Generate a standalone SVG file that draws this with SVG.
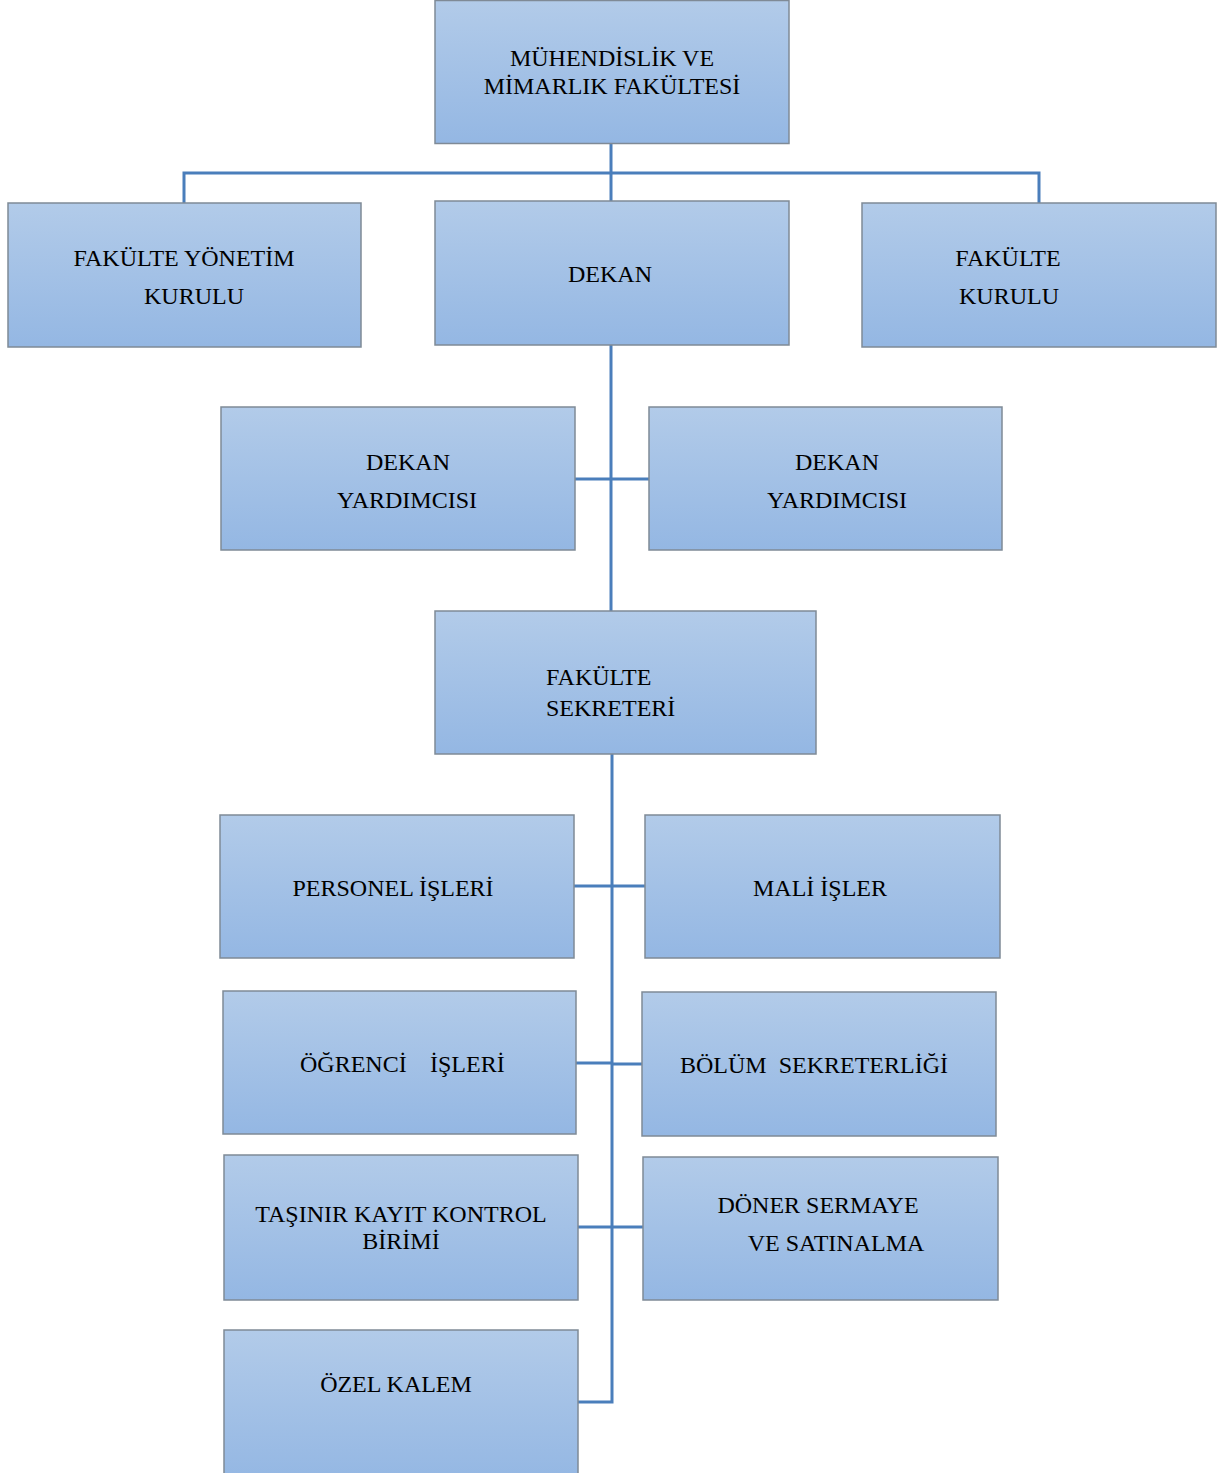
<svg xmlns="http://www.w3.org/2000/svg" width="1217" height="1473" viewBox="0 0 1217 1473">
<defs>
<linearGradient id="g" x1="0" y1="0" x2="0" y2="1">
<stop offset="0" stop-color="#b2cbe9"/>
<stop offset="1" stop-color="#94b7e3"/>
</linearGradient>
<style>
.box{fill:url(#g);stroke:#7f8a96;stroke-width:1.5}
.t{font-family:"Liberation Serif","DejaVu Serif",serif;font-size:24px;fill:#000;text-anchor:middle}
.tl{text-anchor:start}
.c{fill:none;stroke:#4a7ebb;stroke-width:3}
</style>
</defs>
<rect width="1217" height="1473" fill="#fff"/>
<g id="connectors">
<path class="c" d="M611 143V201M184 203V173H1039V203"/>
<path class="c" d="M611 345V611M575 479H649"/>
<path class="c" d="M612 754V1402H578M574 886H645M576 1063H612M612 1064H642M578 1227H643"/>
</g>
<g id="n-fakulte">
<rect class="box" x="435" y="0.5" width="354" height="143"/>
<text class="t" x="612" y="66">MÜHENDİSLİK VE</text>
<text class="t" x="612" y="94">MİMARLIK FAKÜLTESİ</text>
</g>
<g id="n-fyk">
<rect class="box" x="8" y="203" width="353" height="144"/>
<text class="t" x="184" y="266">FAKÜLTE YÖNETİM</text>
<text class="t" x="194" y="304">KURULU</text>
</g>
<g id="n-dekan">
<rect class="box" x="435" y="201" width="354" height="144"/>
<text class="t" x="610" y="282">DEKAN</text>
</g>
<g id="n-fk">
<rect class="box" x="862" y="203" width="354" height="144"/>
<text class="t" x="1008" y="266">FAKÜLTE</text>
<text class="t" x="1009" y="304">KURULU</text>
</g>
<g id="n-dy1">
<rect class="box" x="221" y="407" width="354" height="143"/>
<text class="t" x="408" y="470">DEKAN</text>
<text class="t" x="407" y="508">YARDIMCISI</text>
</g>
<g id="n-dy2">
<rect class="box" x="649" y="407" width="353" height="143"/>
<text class="t" x="837" y="470">DEKAN</text>
<text class="t" x="837" y="508">YARDIMCISI</text>
</g>
<g id="n-fs">
<rect class="box" x="435" y="611" width="381" height="143"/>
<text class="t tl" x="546" y="685">FAKÜLTE</text>
<text class="t tl" x="546" y="716">SEKRETERİ</text>
</g>
<g id="n-pi">
<rect class="box" x="220" y="815" width="354" height="143"/>
<text class="t" x="393" y="896">PERSONEL İŞLERİ</text>
</g>
<g id="n-mi">
<rect class="box" x="645" y="815" width="355" height="143"/>
<text class="t" x="820" y="896">MALİ İŞLER</text>
</g>
<g id="n-oi">
<rect class="box" x="223" y="991" width="353" height="143"/>
<text class="t tl" x="300" y="1072">ÖĞRENCİ</text>
<text class="t tl" x="430" y="1072">İŞLERİ</text>
</g>
<g id="n-bs">
<rect class="box" x="642" y="992" width="354" height="144"/>
<text class="t tl" x="680" y="1073" xml:space="preserve">BÖLÜM  SEKRETERLİĞİ</text>
</g>
<g id="n-tk">
<rect class="box" x="224" y="1155" width="354" height="145"/>
<text class="t" x="401" y="1222">TAŞINIR KAYIT KONTROL</text>
<text class="t" x="401" y="1249">BİRİMİ</text>
</g>
<g id="n-ds">
<rect class="box" x="643" y="1157" width="355" height="143"/>
<text class="t" x="818" y="1213">DÖNER SERMAYE</text>
<text class="t" x="836" y="1251">VE SATINALMA</text>
</g>
<g id="n-ok">
<rect class="box" x="224" y="1330" width="354" height="150"/>
<text class="t" x="396" y="1392">ÖZEL KALEM</text>
</g>
</svg>
